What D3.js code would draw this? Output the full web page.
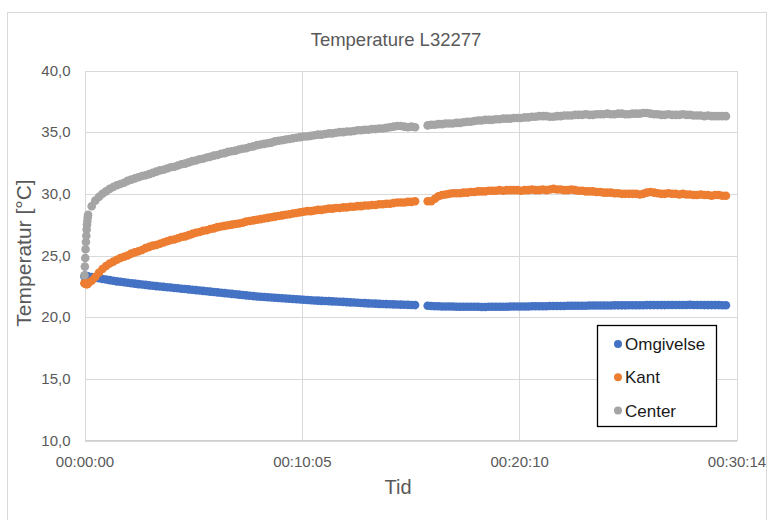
<!DOCTYPE html>
<html>
<head>
<meta charset="utf-8">
<script src="https://cdn.jsdelivr.net/npm/d3@7"></script>
<style>
  html, body { margin: 0; padding: 0; background: #ffffff; }
  svg { display: block; }
</style>
</head>
<body>
<script>
// ---------------- DATA ----------------
const chartTitle = "Temperature L32277";
const xAxisTitle = "Tid";
const yAxisTitle = "Temperatur [°C]";
const seriesNames = ["Omgivelse", "Kant", "Center"];

// sample times in seconds (before and after the logging gap)
const timesA = [0, 1, 2, 3, 4, 5, 6, 7, 8, 9,
  10, 20, 30, 40, 50, 60, 70, 80, 90, 100,
  110, 120, 130, 140, 150, 160, 170, 180, 190, 200,
  210, 220, 230, 240, 250, 260, 270, 280, 290, 300,
  310, 320, 330, 340, 350, 360, 370, 380, 390, 400,
  410, 420, 430, 440, 450, 460, 470, 480, 490, 500,
  510, 520, 530, 540, 550, 560, 570, 580, 590, 600,
  610, 620, 630, 640, 650, 660, 670, 680, 690, 700,
  710, 720, 730, 740, 750, 760, 770, 780, 790, 800,
  810, 820, 830, 840, 850, 860, 870, 880, 890, 900,
  910, 920];
const timesB = [955, 965, 975, 985, 995, 1005, 1015, 1025, 1035, 1045,
  1055, 1065, 1075, 1085, 1095, 1105, 1115, 1125, 1135, 1145,
  1155, 1165, 1175, 1185, 1195, 1205, 1215, 1225, 1235, 1245,
  1255, 1265, 1275, 1285, 1295, 1305, 1315, 1325, 1335, 1345,
  1355, 1365, 1375, 1385, 1395, 1405, 1415, 1425, 1435, 1445,
  1455, 1465, 1475, 1485, 1495, 1505, 1515, 1525, 1535, 1545,
  1555, 1565, 1575, 1585, 1595, 1605, 1615, 1625, 1635, 1645,
  1655, 1665, 1675, 1685, 1695, 1705, 1715, 1725, 1735, 1745,
  1755, 1765, 1775, 1785];

// Omgivelse (ambient)
const omgivelseA = [23.3, 23.35, 23.3, 23.3, 23.35, 23.3, 23.3, 23.3, 23.3, 23.3,
  23.3, 23.25, 23.2, 23.15, 23.1, 23.05, 23.0, 22.95, 22.9, 22.87,
  22.83, 22.79, 22.75, 22.72, 22.68, 22.65, 22.62, 22.58, 22.55, 22.52,
  22.49, 22.46, 22.43, 22.4, 22.37, 22.34, 22.31, 22.28, 22.25, 22.22,
  22.19, 22.16, 22.13, 22.1, 22.07, 22.04, 22.01, 21.98, 21.95, 21.92,
  21.89, 21.86, 21.83, 21.8, 21.77, 21.74, 21.71, 21.68, 21.66, 21.63,
  21.61, 21.59, 21.57, 21.55, 21.53, 21.51, 21.49, 21.47, 21.45, 21.43,
  21.41, 21.39, 21.37, 21.35, 21.34, 21.32, 21.31, 21.3, 21.28, 21.27,
  21.25, 21.24, 21.22, 21.2, 21.19, 21.17, 21.15, 21.14, 21.12, 21.11,
  21.1, 21.08, 21.07, 21.06, 21.05, 21.04, 21.03, 21.02, 21.01, 21.0,
  20.99, 20.98];
const omgivelseB = [20.92, 20.9, 20.89, 20.88, 20.87, 20.87, 20.86, 20.86, 20.85, 20.85,
  20.85, 20.84, 20.84, 20.84, 20.84, 20.83, 20.83, 20.84, 20.84, 20.84,
  20.85, 20.85, 20.85, 20.86, 20.86, 20.86, 20.87, 20.87, 20.87, 20.88,
  20.88, 20.88, 20.89, 20.89, 20.9, 20.9, 20.9, 20.91, 20.91, 20.92,
  20.92, 20.92, 20.93, 20.93, 20.93, 20.94, 20.94, 20.94, 20.95, 20.95,
  20.95, 20.95, 20.96, 20.96, 20.96, 20.96, 20.97, 20.97, 20.97, 20.97,
  20.97, 20.98, 20.98, 20.98, 20.98, 20.98, 20.98, 20.99, 20.99, 20.99,
  20.99, 20.99, 20.99, 21.0, 20.99, 20.99, 20.99, 20.98, 20.98, 20.98,
  20.98, 20.98, 20.97, 20.97];

// Kant (edge)
const kantA = [22.75, 22.75, 22.75, 22.75, 22.7, 22.7, 22.7, 22.7, 22.7, 22.7,
  22.75, 22.95, 23.25, 23.6, 23.9, 24.15, 24.35, 24.5, 24.65, 24.8,
  24.9, 25.0, 25.15, 25.25, 25.35, 25.45, 25.6, 25.7, 25.8, 25.85,
  25.95, 26.05, 26.15, 26.25, 26.3, 26.4, 26.5, 26.55, 26.65, 26.75,
  26.85, 26.9, 27.0, 27.05, 27.15, 27.2, 27.3, 27.35, 27.4, 27.45,
  27.5, 27.55, 27.6, 27.65, 27.75, 27.8, 27.85, 27.9, 27.95, 28.0,
  28.05, 28.1, 28.15, 28.2, 28.25, 28.3, 28.35, 28.4, 28.45, 28.5,
  28.55, 28.6, 28.6, 28.65, 28.7, 28.7, 28.75, 28.8, 28.8, 28.85,
  28.85, 28.9, 28.9, 28.95, 28.95, 29.0, 29.0, 29.05, 29.05, 29.1,
  29.1, 29.15, 29.15, 29.2, 29.2, 29.25, 29.3, 29.3, 29.3, 29.35,
  29.35, 29.4];
const kantB = [29.4, 29.4, 29.6, 29.8, 29.9, 29.95, 30.0, 30.05, 30.05, 30.05,
  30.1, 30.1, 30.15, 30.15, 30.2, 30.2, 30.2, 30.25, 30.25, 30.25,
  30.3, 30.25, 30.3, 30.3, 30.3, 30.3, 30.25, 30.3, 30.3, 30.35,
  30.3, 30.3, 30.35, 30.3, 30.35, 30.4, 30.35, 30.35, 30.3, 30.3,
  30.35, 30.3, 30.25, 30.25, 30.2, 30.2, 30.2, 30.15, 30.15, 30.1,
  30.1, 30.1, 30.05, 30.05, 30.0, 30.0, 30.0, 30.0, 30.0, 29.95,
  30.0, 30.1, 30.15, 30.1, 30.05, 30.0, 30.0, 30.05, 30.0, 30.0,
  29.95, 30.0, 29.95, 29.95, 29.9, 29.9, 29.95, 29.9, 29.9, 29.85,
  29.9, 29.9, 29.85, 29.85];

// Center
const centerA = [23.4, 24.1, 24.8, 25.5, 26.1, 26.6, 27.1, 27.5, 27.8, 28.1,
  28.3, 29.0, 29.45, 29.75, 30.0, 30.2, 30.4, 30.55, 30.7, 30.8,
  30.9, 31.05, 31.15, 31.25, 31.35, 31.45, 31.5, 31.6, 31.7, 31.8,
  31.9, 31.95, 32.05, 32.15, 32.2, 32.3, 32.4, 32.45, 32.55, 32.65,
  32.7, 32.8, 32.85, 32.95, 33.0, 33.1, 33.15, 33.25, 33.3, 33.4,
  33.45, 33.5, 33.6, 33.65, 33.7, 33.8, 33.85, 33.95, 34.0, 34.05,
  34.1, 34.15, 34.25, 34.3, 34.35, 34.4, 34.45, 34.5, 34.55, 34.6,
  34.65, 34.65, 34.7, 34.75, 34.8, 34.8, 34.85, 34.9, 34.9, 34.95,
  35.0, 35.0, 35.05, 35.05, 35.1, 35.15, 35.15, 35.2, 35.2, 35.25,
  35.25, 35.3, 35.3, 35.35, 35.4, 35.45, 35.5, 35.5, 35.45, 35.4,
  35.45, 35.4];
const centerB = [35.55, 35.6, 35.6, 35.65, 35.65, 35.7, 35.7, 35.7, 35.75, 35.75,
  35.8, 35.85, 35.85, 35.9, 35.95, 35.95, 36.0, 36.0, 36.0, 36.05,
  36.05, 36.1, 36.1, 36.1, 36.15, 36.15, 36.15, 36.2, 36.2, 36.25,
  36.25, 36.3, 36.3, 36.3, 36.25, 36.25, 36.3, 36.3, 36.35, 36.35,
  36.35, 36.4, 36.4, 36.4, 36.45, 36.4, 36.4, 36.45, 36.45, 36.45,
  36.5, 36.45, 36.45, 36.5, 36.5, 36.45, 36.45, 36.5, 36.5, 36.5,
  36.55, 36.55, 36.5, 36.45, 36.45, 36.4, 36.4, 36.45, 36.4, 36.4,
  36.4, 36.45, 36.4, 36.4, 36.35, 36.35, 36.35, 36.3, 36.35, 36.3,
  36.3, 36.3, 36.3, 36.3];

const xTickValues = [0, 604.8, 1209.6, 1814.4];
const xTickLabels = ["00:00:00", "00:10:05", "00:20:10", "00:30:14"];
const yTickValues = [10, 15, 20, 25, 30, 35, 40];
const yTickLabels = ["10,0", "15,0", "20,0", "25,0", "30,0", "35,0", "40,0"];
const seriesColors = ["#4472C4", "#ED7D31", "#A5A5A5"];

// ---------------- CHART ----------------
const W = 773, H = 520;
const FONT = "'Liberation Sans', Arial, sans-serif";
const svg = d3.select("body").append("svg").attr("width", W).attr("height", H);

svg.append("rect").attr("width", W).attr("height", H).attr("fill", "#fff");
svg.append("rect").attr("x", 7.5).attr("y", 12.5).attr("width", 759).attr("height", 530)
  .attr("fill", "none").attr("stroke", "#d9d9d9");

const x = d3.scaleLinear().domain([0, 1814.4]).range([84.5, 736.5]);
const y = d3.scaleLinear().domain([10, 40]).range([440.5, 70.5]);

// gridlines
const gy = svg.append("g").attr("transform", "translate(84.5,0)")
  .call(d3.axisLeft(y).tickValues(yTickValues).tickSize(-(736.5 - 84.5))
    .tickFormat((d, i) => yTickLabels[i]).tickPadding(14));
gy.select(".domain").remove();
gy.selectAll(".tick line").attr("stroke", "#d9d9d9").attr("shape-rendering", "crispEdges");
gy.selectAll(".tick text").attr("font-family", FONT).attr("font-size", 15).attr("fill", "#595959");

const gx = svg.append("g").attr("transform", "translate(0,440.5)")
  .call(d3.axisBottom(x).tickValues(xTickValues).tickSize(-(440.5 - 70.5))
    .tickFormat((d, i) => xTickLabels[i]).tickPadding(16));
gx.select(".domain").remove();
gx.selectAll(".tick line").attr("stroke", "#d9d9d9").attr("shape-rendering", "crispEdges");
gx.selectAll(".tick text").attr("font-family", FONT).attr("font-size", 15).attr("fill", "#595959");

// bottom axis line
svg.append("line").attr("x1", 84.5).attr("x2", 736.5).attr("y1", y(10)).attr("y2", y(10))
  .attr("stroke", "#cfcfcf").attr("shape-rendering", "crispEdges");

// series
const seriesData = [
  [omgivelseA, omgivelseB],
  [kantA, kantB],
  [centerA, centerB]
];
seriesData.forEach((parts, si) => {
  const pts = [];
  parts[0].forEach((v, i) => pts.push([timesA[i], v]));
  parts[1].forEach((v, i) => pts.push([timesB[i], v]));
  svg.append("g").selectAll("circle").data(pts).join("circle")
    .attr("cx", d => x(d[0])).attr("cy", d => y(d[1])).attr("r", 4.3)
    .attr("fill", seriesColors[si]);
});

// titles
svg.append("text").attr("x", 396).attr("y", 46).attr("text-anchor", "middle")
  .attr("font-family", FONT).attr("font-size", 18.5).attr("fill", "#595959").text(chartTitle);
svg.append("text").attr("x", 398).attr("y", 494).attr("text-anchor", "middle")
  .attr("font-family", FONT).attr("font-size", 20).attr("fill", "#595959").text(xAxisTitle);
svg.append("text").attr("transform", "translate(31,253) rotate(-90)").attr("text-anchor", "middle")
  .attr("font-family", FONT).attr("font-size", 21).attr("fill", "#595959").text(yAxisTitle);

// legend
const lg = svg.append("g");
lg.append("rect").attr("x", 597.5).attr("y", 325.5).attr("width", 119).attr("height", 101)
  .attr("fill", "#fff").attr("stroke", "#000").attr("stroke-width", 1.3);
seriesNames.forEach((n, i) => {
  const cy = 344 + i * 33.3;
  lg.append("circle").attr("cx", 618).attr("cy", cy).attr("r", 4).attr("fill", seriesColors[i]);
  lg.append("text").attr("x", 625).attr("y", cy + 6).attr("font-family", FONT)
    .attr("font-size", 17).attr("fill", "#1a1a1a").text(n);
});
</script>
</body>
</html>
